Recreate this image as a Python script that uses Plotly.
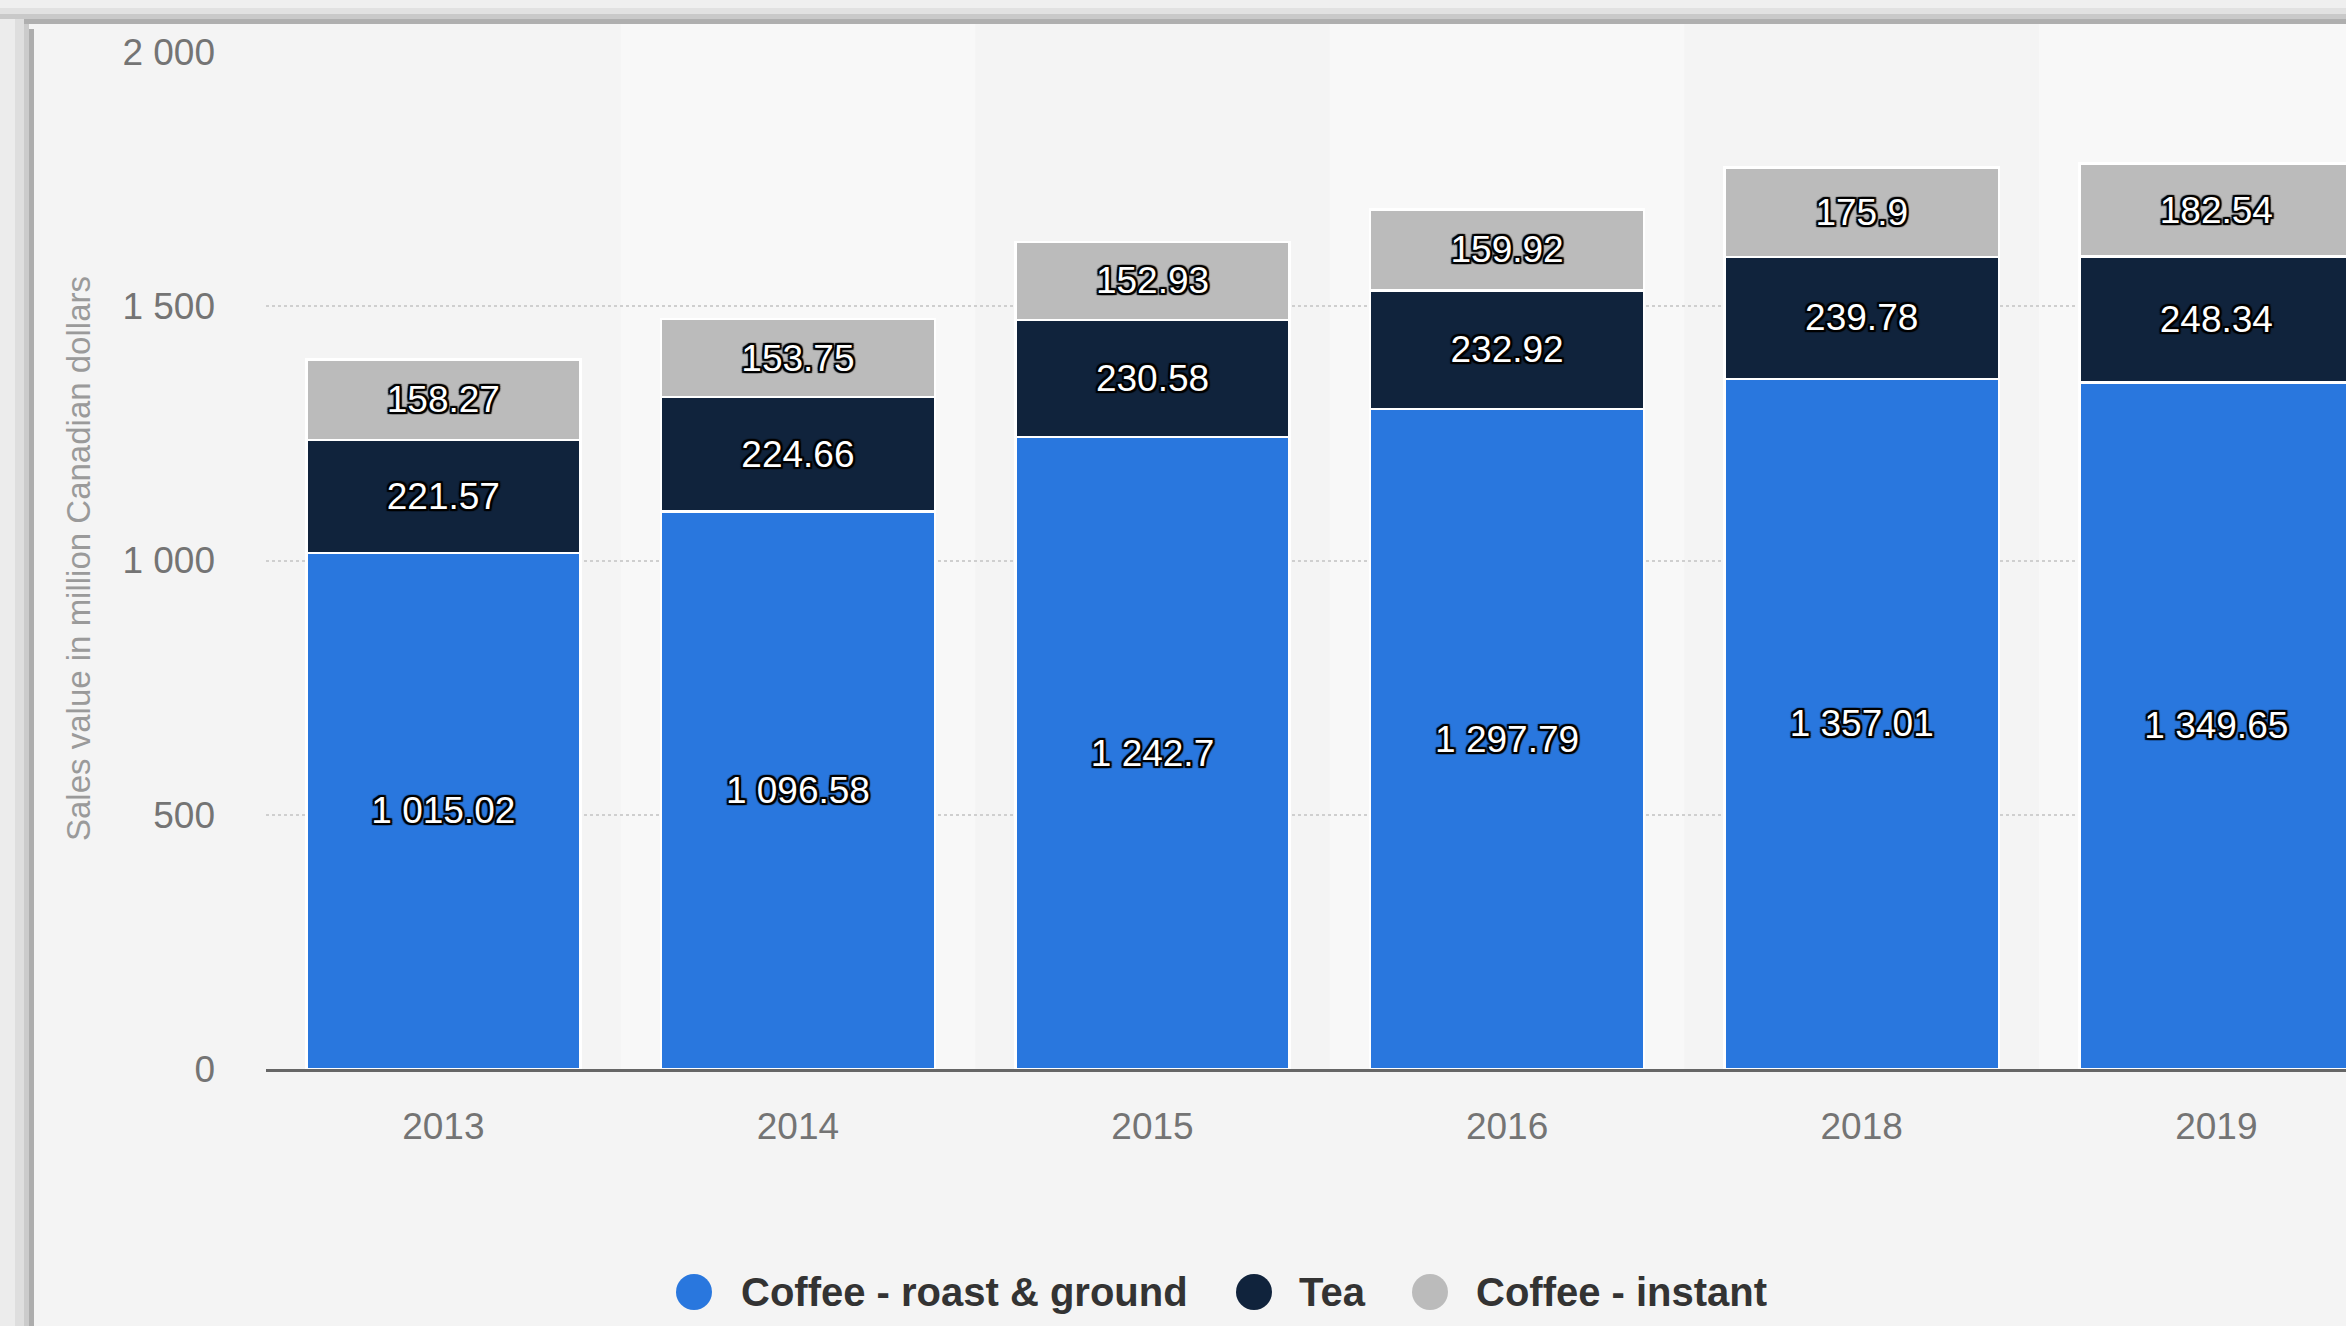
import plotly.graph_objects as go

# Sales value in million Canadian dollars
years = ["2013", "2014", "2015", "2016", "2018", "2019"]
roast_ground = [1015.02, 1096.58, 1242.7, 1297.79, 1357.01, 1349.65]
tea = [221.57, 224.66, 230.58, 232.92, 239.78, 248.34]
instant = [158.27, 153.75, 152.93, 159.92, 175.9, 182.54]

series_names = ["Coffee - roast & ground", "Tea", "Coffee - instant"]
series_colors = ["#2977de", "#10233c", "#bbbbbb"]

y_ticks = [0, 500, 1000, 1500, 2000]
y_ticktext = ["0", "500", "1 000", "1 500", "2 000"]

FONT = "Liberation Sans, Arial, Helvetica, sans-serif"
W_PX, H_PX = 2346, 1326
L, R, T, B = 266, 2346, 52, 1069  # plot area in pixels


def px_x(p):
    return (p - L) / (R - L)


def px_y(p):
    return (B - p) / (B - T)


def fmt(v):
    return f"{v:,}".replace(",", " ")


outline = ("-2px -2px 1px #000, 2px -2px 1px #000, -2px 2px 1px #000, 2px 2px 1px #000, "
           "0 2px 1px #000, 0 -2px 1px #000, 2px 0 1px #000, -2px 0 1px #000")

fig = go.Figure()
for name, vals, color in zip(series_names, [roast_ground, tea, instant], series_colors):
    fig.add_trace(go.Bar(
        x=years, y=vals, name=name,
        marker=dict(color=color, line=dict(color="#ffffff", width=2.5)),
        text=[fmt(v) for v in vals],
        textposition="inside", insidetextanchor="middle", textangle=0,
        constraintext="none",
        textfont=dict(family=FONT, size=37, color="#ffffff", shadow=outline),
        showlegend=False, hoverinfo="skip",
    ))

shapes = []
# alternating column shading
for i in range(1, len(years), 2):
    shapes.append(dict(type="rect", xref="x", yref="paper", x0=i - 0.5, x1=i + 0.5,
                       y0=0, y1=px_y(24), fillcolor="#f8f8f8", line_width=0, layer="below"))

# card frame shadow along the top and left edges
for (a, b, c) in [(0, 8, "#efefef"), (8, 14, "#e1e1e1"), (14, 19, "#c9c9c9"), (19, 24, "#afafaf")]:
    shapes.append(dict(type="rect", xref="paper", yref="paper", x0=px_x(0), x1=px_x(W_PX),
                       y0=px_y(b), y1=px_y(a), fillcolor=c, line_width=0, layer="above"))
for (a, b, c) in [(0, 15, "#ececec"), (15, 24, "#dedede"), (24, 29, "#cbcbcb"), (29, 34, "#adadad")]:
    shapes.append(dict(type="rect", xref="paper", yref="paper", x0=px_x(a), x1=px_x(b),
                       y0=px_y(H_PX), y1=px_y(max(a, 19)), fillcolor=c, line_width=0,
                       layer="above"))

annotations = [dict(
    text="Sales value in million Canadian dollars", textangle=-90,
    xref="paper", yref="paper", x=px_x(78), y=px_y(559),
    xanchor="center", yanchor="middle", showarrow=False,
    font=dict(family=FONT, size=33, color="#9a9a9a"),
)]

# legend drawn as circles with labels
legend_items = [(694, 739), (1254, 1297), (1430, 1474)]
legend_y = 1292
for (cx, tx), name, color in zip(legend_items, series_names, series_colors):
    shapes.append(dict(type="circle", xref="paper", yref="paper",
                       xsizemode="pixel", ysizemode="pixel",
                       xanchor=px_x(cx), yanchor=px_y(legend_y),
                       x0=-18, x1=18, y0=-18, y1=18,
                       fillcolor=color, line_width=0))
    annotations.append(dict(text=f"<b>{name}</b>", xref="paper", yref="paper",
                            x=px_x(tx), y=px_y(legend_y), xanchor="left", yanchor="middle",
                            showarrow=False,
                            font=dict(family=FONT, size=40, color="#333333")))

fig.update_layout(
    width=W_PX, height=H_PX,
    margin=dict(l=L, r=W_PX - R, t=T, b=H_PX - B, autoexpand=False),
    paper_bgcolor="#f4f4f4", plot_bgcolor="#f4f4f4",
    barmode="stack", bargap=0.227,
    showlegend=False,
    shapes=shapes, annotations=annotations,
    xaxis=dict(
        type="category", range=[-0.5, (R - L) / 354.6 - 0.5],
        showgrid=False, zeroline=False,
        showline=True, linecolor="#666666", linewidth=3,
        ticks="", ticklabelstandoff=23,
        tickfont=dict(family=FONT, size=37, color="#747474"),
    ),
    yaxis=dict(
        range=[0, 2000], tickvals=y_ticks, ticktext=y_ticktext,
        showgrid=True, gridcolor="#cfcfcf", griddash="dot", gridwidth=2,
        zeroline=False, showline=False, ticks="", ticklabelstandoff=50,
        tickfont=dict(family=FONT, size=37, color="#747474"),
    ),
)

fig.write_html("out.html")
